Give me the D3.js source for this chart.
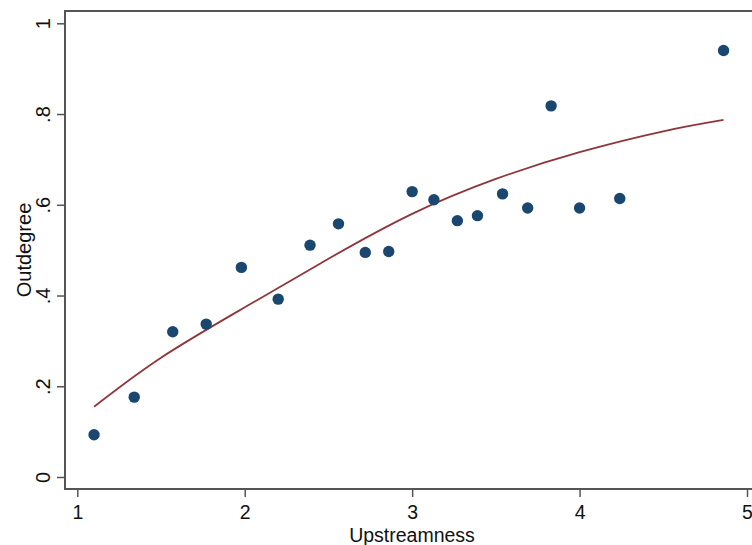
<!DOCTYPE html>
<html>
<head>
<meta charset="utf-8">
<script src="https://cdn.jsdelivr.net/npm/d3@7"></script>
<style>
  body { margin: 0; background: #fff; }
  svg { display: block; font-family: "Liberation Sans", Arial, sans-serif; }
</style>
</head>
<body>
<svg id="chart" width="752" height="545"></svg>
<script>
// scatter data
const upstreamness = [1.10, 1.34, 1.57, 1.77, 1.98, 2.20, 2.39, 2.56, 2.72, 2.86,
                      3.00, 3.13, 3.27, 3.39, 3.54, 3.69, 3.83, 4.00, 4.24, 4.86];
const outdegree = [0.093, 0.176, 0.320, 0.337, 0.462, 0.392, 0.511, 0.558, 0.495, 0.497,
                   0.629, 0.611, 0.565, 0.576, 0.624, 0.593, 0.818, 0.593, 0.614, 0.940];

// quadratic fit line
const fitX = [1.10, 1.5, 2.0, 2.5, 3.0, 3.5, 4.0, 4.5, 4.86];
const fitY = [0.155, 0.263, 0.374, 0.481, 0.580, 0.657, 0.716, 0.762, 0.787];

const xTicks = [1, 2, 3, 4, 5];
const xTickLabels = ['1', '2', '3', '4', '5'];
const yTicks = [0, 0.2, 0.4, 0.6, 0.8, 1];
const yTickLabels = ['0', '.2', '.4', '.6', '.8', '1'];

const svg = d3.select('#chart');

const x = d3.scaleLinear().domain([1, 5]).range([77.3, 747]);
const y = d3.scaleLinear().domain([0, 1]).range([477, 23.3]);

const box = {left: 65, top: 11, right: 775, bottom: 489};
const axisCol = '#555';

// plot region outline
svg.append('rect')
    .attr('x', box.left)
    .attr('y', box.top)
    .attr('width', box.right - box.left)
    .attr('height', box.bottom - box.top)
    .attr('fill', 'none')
    .attr('stroke', axisCol)
    .attr('stroke-width', 2);

// y axis
const yAxis = svg.append('g')
    .attr('transform', `translate(${box.left},0)`)
    .call(d3.axisLeft(y)
      .tickValues(yTicks)
      .tickFormat((d, i) => yTickLabels[i])
      .tickSize(8)
      .tickPadding(0));
yAxis.select('.domain').remove();
yAxis.selectAll('.tick line').attr('stroke', axisCol).attr('stroke-width', 1.5);
yAxis.selectAll('.tick text')
    .attr('x', null).attr('dy', null)
    .attr('transform', 'translate(-15,0) rotate(-90)')
    .attr('text-anchor', 'middle')
    .attr('fill', '#111')
    .style('font-size', '20px');

// x axis
const xAxis = svg.append('g')
    .attr('transform', `translate(0,${box.bottom})`)
    .call(d3.axisBottom(x)
      .tickValues(xTicks)
      .tickFormat((d, i) => xTickLabels[i])
      .tickSize(8)
      .tickPadding(0));
xAxis.select('.domain').remove();
xAxis.selectAll('.tick line').attr('stroke', axisCol).attr('stroke-width', 1.5);
xAxis.selectAll('.tick text')
    .attr('y', 29.5).attr('dy', null)
    .attr('fill', '#111')
    .style('font-size', '19.5px');

// axis titles
svg.append('text')
    .attr('x', 412).attr('y', 542)
    .attr('text-anchor', 'middle')
    .attr('fill', '#111')
    .style('font-size', '19.5px')
    .text('Upstreamness');

svg.append('text')
    .attr('transform', 'translate(31,250) rotate(-90)')
    .attr('text-anchor', 'middle')
    .attr('fill', '#111')
    .style('font-size', '20px')
    .text('Outdegree');

// fit line
const fitLine = d3.line()
    .x(d => x(d[0]))
    .y(d => y(d[1]))
    .curve(d3.curveNatural);

svg.append('path')
    .datum(fitX.map((v, i) => [v, fitY[i]]))
    .attr('d', fitLine)
    .attr('fill', 'none')
    .attr('stroke', '#90353b')
    .attr('stroke-width', 1.8);

// points
svg.append('g').selectAll('circle')
    .data(upstreamness.map((v, i) => ({u: v, o: outdegree[i]})))
  .enter().append('circle')
    .attr('cx', d => x(d.u))
    .attr('cy', d => y(d.o))
    .attr('r', 5.7)
    .attr('fill', '#1a476f');
</script>
</body>
</html>
